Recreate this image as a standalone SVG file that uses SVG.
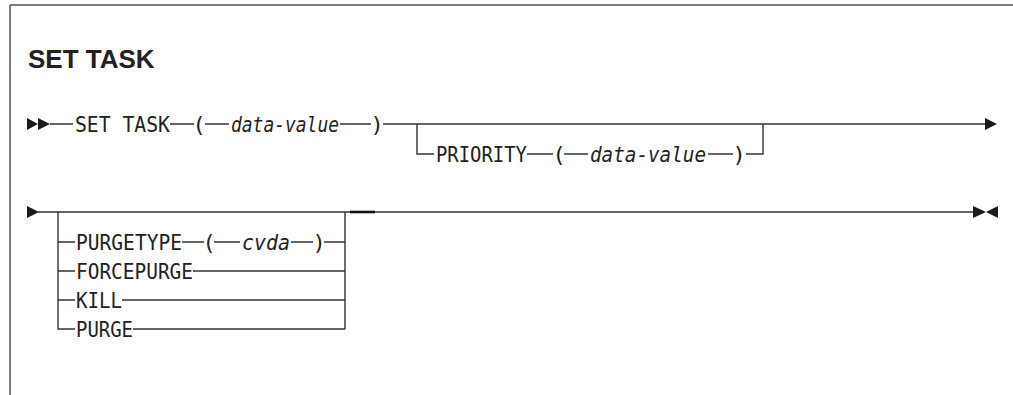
<svg xmlns="http://www.w3.org/2000/svg" width="1013" height="395" viewBox="0 0 1013 395">
<style>
.ln{stroke:#333;stroke-width:1.4;fill:none}
.bd{stroke:#555;stroke-width:1.5;fill:none}
.ar{fill:#1a1a1a}
.t{font-family:"DejaVu Sans Mono","Liberation Mono",monospace;font-size:22px;fill:#222}
.i{font-style:italic}
.title{font-family:"Liberation Sans",Arial,sans-serif;font-weight:bold;font-size:26px;fill:#222}
</style>
<rect width="1013" height="395" fill="#fff"/>
<g id="frame">
<path class="bd" d="M10,5 H1013 M10,5 V395"/>
</g>
<g id="title"><text class="title" x="28" y="68">SET TASK</text></g>
<g id="connectors">
<path class="ln" d="M50,124 H73 M170,124 H194 M205,124 H229 M340,124 H371 M383,124 H986"/>
<path class="ln" d="M417,124 V154 H434 M527,154 H553 M564,154 H588 M708,154 H733 M746,154 H763 V124"/>
<path class="ln" d="M38,212 H974"/>
<path d="M350,212 H375" stroke="#111" stroke-width="2.6"/>
<path class="ln" d="M58,212 V329 H75 M58,242 H75 M58,271 H75 M58,300 H75"/>
<path class="ln" d="M182,242 H204 M214,242 H240 M291,242 H313 M324,242 H345 M193,271 H345 M122,300 H345 M133,329 H345 M345,212 V329"/>
<polygon class="ar" points="27,118 38,124 27,130"/>
<polygon class="ar" points="38,118 50,124 38,130"/>
<polygon class="ar" points="985,118 997,124 985,130"/>
<polygon class="ar" points="27,206 39,212 27,218"/>
<polygon class="ar" points="973,206 986,212 973,218"/>
<polygon class="ar" points="998,206 986,212 998,218"/>
</g>
<g id="n-settask"><text class="t" x="75" y="132" textLength="95" lengthAdjust="spacingAndGlyphs">SET TASK</text></g>
<g id="n-lparen1"><text class="t" x="199" y="132" text-anchor="middle">(</text></g>
<g id="n-datavalue1"><text class="t i" x="231" y="132" textLength="108" lengthAdjust="spacingAndGlyphs">data-value</text></g>
<g id="n-rparen1"><text class="t" x="377" y="132" text-anchor="middle">)</text></g>
<g id="n-priority"><text class="t" x="436" y="162" textLength="91" lengthAdjust="spacingAndGlyphs">PRIORITY</text></g>
<g id="n-lparen2"><text class="t" x="559" y="162" text-anchor="middle">(</text></g>
<g id="n-datavalue2"><text class="t i" x="590" y="162" textLength="116" lengthAdjust="spacingAndGlyphs">data-value</text></g>
<g id="n-rparen2"><text class="t" x="739" y="162" text-anchor="middle">)</text></g>
<g id="n-purgetype"><text class="t" x="76" y="250" textLength="106" lengthAdjust="spacingAndGlyphs">PURGETYPE</text></g>
<g id="n-lparen3"><text class="t" x="209" y="250" text-anchor="middle">(</text></g>
<g id="n-cvda"><text class="t i" x="242" y="250" textLength="48" lengthAdjust="spacingAndGlyphs">cvda</text></g>
<g id="n-rparen3"><text class="t" x="319" y="250" text-anchor="middle">)</text></g>
<g id="n-forcepurge"><text class="t" x="76" y="279" textLength="117" lengthAdjust="spacingAndGlyphs">FORCEPURGE</text></g>
<g id="n-kill"><text class="t" x="76" y="308" textLength="46" lengthAdjust="spacingAndGlyphs">KILL</text></g>
<g id="n-purge"><text class="t" x="76" y="337" textLength="57" lengthAdjust="spacingAndGlyphs">PURGE</text></g>
</svg>
